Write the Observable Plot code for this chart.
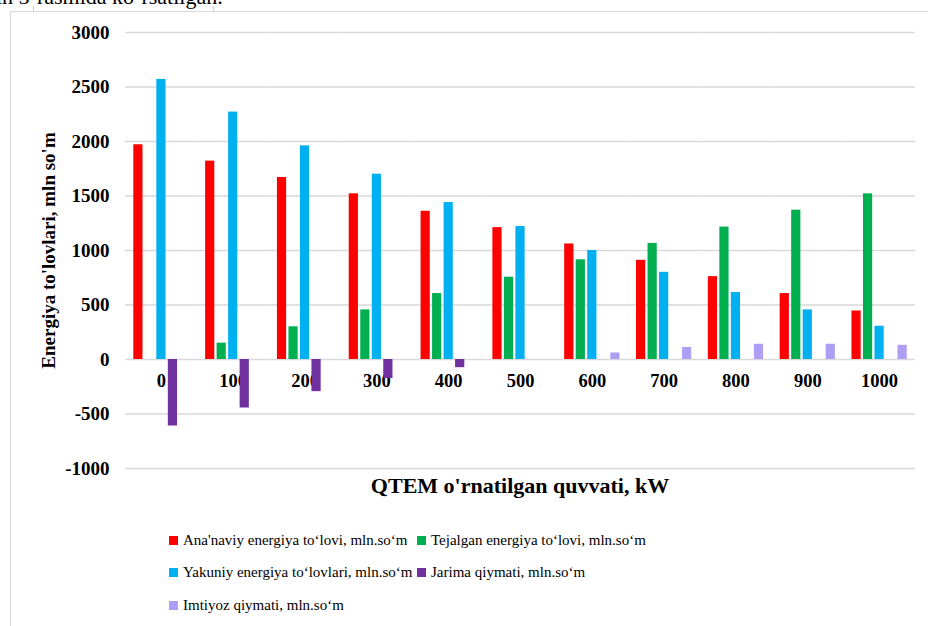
<!DOCTYPE html>
<html><head><meta charset="utf-8">
<script src="https://cdn.jsdelivr.net/npm/d3@7"></script>
<script src="https://cdn.jsdelivr.net/npm/@observablehq/plot@0.6"></script>
<style>
body{margin:0;background:#fff;font-family:"Liberation Serif","Times New Roman",serif;overflow:hidden;}
#wrap{position:relative;width:928px;height:626px;overflow:hidden;background:#fff;}
#doc{position:absolute;left:-4px;top:-14px;font-size:22px;line-height:22px;white-space:nowrap;color:#000;}
.cell{position:absolute;top:6px;width:1px;height:5px;background:#d0d0d0;}
#frame{position:absolute;left:10px;top:11px;width:1000px;height:700px;border-top:1px solid #d9d9d9;border-left:1px solid #d9d9d9;background:#fff;}
#chart{position:absolute;left:0;top:0;}
#xtitle{position:absolute;left:125px;width:790px;top:473px;text-align:center;font-weight:bold;font-size:22px;line-height:26px;color:#000;}
#legend{position:absolute;left:169px;top:524px;display:grid;grid-template-columns:248px 320px;grid-auto-rows:32.5px;font-family:"Liberation Serif","Times New Roman",serif;font-size:15px;color:#000;}
.item{display:flex;align-items:center;white-space:nowrap;}
.sw{width:9px;height:9px;margin-right:5px;flex:none;}
</style></head>
<body>
<div id="wrap">
  <div id="doc">in 5-rasmida ko‘rsatilgan.</div>
  <div class="cell" style="left:33px"></div>
  <div class="cell" style="left:213px"></div>
  <div id="frame"></div>
  <div id="chart"></div>
  <div id="xtitle">QTEM o'rnatilgan quvvati, kW</div>
  <div id="legend"></div>
</div>
<script>
const categories = [0, 100, 200, 300, 400, 500, 600, 700, 800, 900, 1000];
const series = [
  "Ana'naviy energiya to‘lovi, mln.so‘m",
  "Tejalgan energiya to‘lovi, mln.so‘m",
  "Yakuniy energiya to‘lovlari, mln.so‘m",
  "Jarima qiymati, mln.so‘m",
  "Imtiyoz qiymati, mln.so‘m"
];
const colors = ["#ff0000", "#00b050", "#00b0f0", "#7030a0", "#ae9ff5"];
const anaviy   = [1970, 1820, 1670, 1520, 1360, 1210, 1060, 910, 760, 605, 445];
const tejalgan = [0, 150, 300, 455, 605, 755, 915, 1065, 1215, 1370, 1520];
const yakuniy  = [2570, 2270, 1960, 1700, 1440, 1220, 1000, 800, 615, 455, 305];
const jarima   = [-610, -445, -295, -175, -75, 0, 0, 0, 0, 0, 0];
const imtiyoz  = [0, 0, 0, 0, 0, 0, 60, 110, 140, 140, 130];
const yTicks = [-1000, -500, 0, 500, 1000, 1500, 2000, 2500, 3000];
const yLabel = "Energiya to'lovlari, mln so'm";

const seriesValues = [anaviy, tejalgan, yakuniy, jarima, imtiyoz];
const rows = categories.flatMap((c, i) =>
  series.map((s, j) => ({category: c, series: s, value: seriesValues[j][i]}))
).filter(d => d.value !== 0);

const chart = Plot.plot({
  width: 928,
  height: 510,
  marginTop: 32,
  marginBottom: 42,
  marginLeft: 125,
  marginRight: 13,
  style: {fontFamily: "'Liberation Serif', 'Times New Roman', serif", background: "transparent", color: "#000"},
  fx: {domain: categories, padding: 0, round: false, axis: null},
  x: {domain: series, paddingInner: 0.2, paddingOuter: 0.72, round: false, axis: null},
  y: {domain: [-1000, 3000]},
  color: {domain: series, range: colors},
  marks: [
    Plot.gridY(yTicks, {stroke: "#d9d9d9", strokeOpacity: 1, strokeWidth: 1.3}),
    Plot.axisY(yTicks, {
      tickSize: 0, tickPadding: 16, fontWeight: "bold", fontSize: 19,
      tickFormat: d => String(d), label: null
    }),
    Plot.axisY([], {
      tickSize: 0, fontWeight: "bold", fontSize: 19, dy: -7,
      label: yLabel, labelAnchor: "center", labelArrow: "none", labelOffset: 84
    }),
    Plot.text(categories, {fx: d => d, y: () => 0, text: d => String(d), dy: 22,
      fontWeight: "bold", fontSize: 18.5, fill: "#000"}),
    Plot.barY(rows, {fx: "category", x: "series", y: "value", fill: "series"})
  ]
});
document.getElementById("chart").appendChild(chart);

const legend = document.getElementById("legend");
series.forEach((s, j) => {
  const it = document.createElement("div");
  it.className = "item";
  const sw = document.createElement("span");
  sw.className = "sw";
  sw.style.background = colors[j];
  it.appendChild(sw);
  const t = document.createElement("span");
  t.textContent = s;
  it.appendChild(t);
  legend.appendChild(it);
});
</script>
</body></html>
